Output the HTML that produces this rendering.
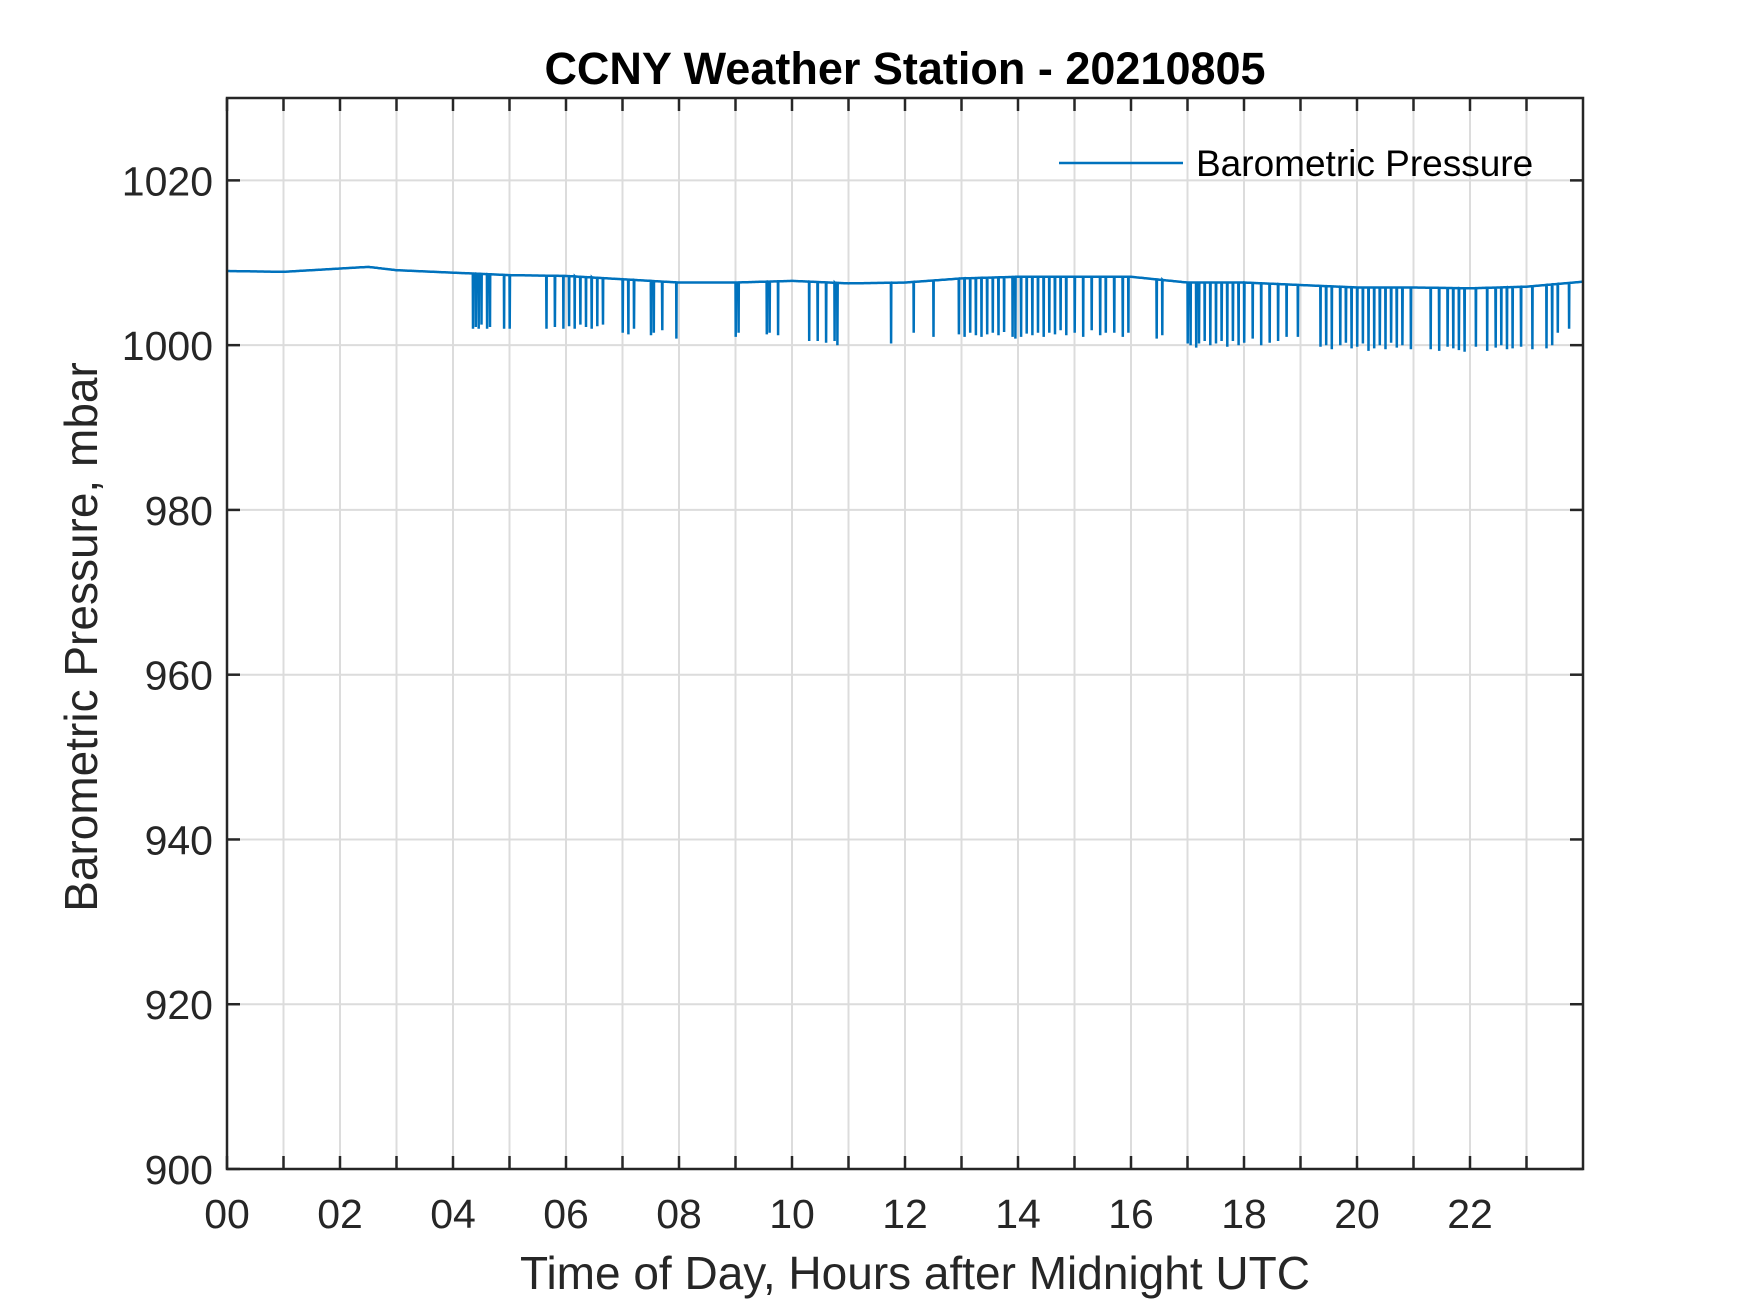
<!DOCTYPE html>
<html><head><meta charset="utf-8">
<style>
html,body{margin:0;padding:0;background:#fff;}
svg{display:block;font-family:"Liberation Sans",Arial,sans-serif;}
</style></head>
<body>
<svg id="chart" width="1750" height="1313" viewBox="0 0 1750 1313">
<rect x="0" y="0" width="1750" height="1313" fill="#fff"/>
<g id="grid"></g>
<g id="series"></g>
<g id="axes"></g>
<text x="905" y="84" text-anchor="middle" font-size="45" font-weight="bold" fill="#000">CCNY Weather Station - 20210805</text>
<text x="915" y="1289" text-anchor="middle" font-size="46" fill="#262626">Time of Day, Hours after Midnight UTC</text>
<text transform="translate(97,637) rotate(-90)" text-anchor="middle" font-size="46" fill="#262626">Barometric Pressure, mbar</text>
<g>
<line x1="1059" y1="163" x2="1183" y2="163" stroke="#0072bd" stroke-width="2.5"/>
<text x="1196" y="176" font-size="37" fill="#000">Barometric Pressure</text>
</g>
</svg>
<script>
// axis extents
const xDomain = [0, 24];
const yDomain = [900, 1030];
const xTicks = [0,1,2,3,4,5,6,7,8,9,10,11,12,13,14,15,16,17,18,19,20,21,22,23];
const xTickLabels = ["00","","02","","04","","06","","08","","10","","12","","14","","16","","18","","20","","22",""];
const yTicks = [900,920,940,960,980,1000,1020];
// baseline pressure (hourly)
const baseHours = [0,1,2,2.5,3,4,5,6,7,8,9,10,11,12,13,14,15,16,17,18,19,20,21,22,23,24];
const baseValues = [1009,1008.9,1009.3,1009.5,1009.1,1008.8,1008.5,1008.4,1008,1007.6,1007.6,1007.8,1007.5,1007.6,1008.1,1008.3,1008.3,1008.3,1007.6,1007.6,1007.3,1007,1007,1006.9,1007.1,1007.7];
// downward spikes (time in hours, min value)
const spikeTimes = [4.35,4.4,4.45,4.5,4.6,4.65,4.9,5.0,5.65,5.8,5.95,6.05,6.15,6.25,6.35,6.45,6.55,6.65,7.0,7.1,7.2,7.5,7.55,7.7,7.95,9.0,9.05,9.55,9.6,9.75,10.3,10.45,10.6,10.75,10.8,11.75,12.15,12.5,12.95,13.05,13.15,13.25,13.35,13.45,13.55,13.65,13.75,13.9,13.95,14.05,14.15,14.25,14.35,14.45,14.55,14.65,14.75,14.85,15.0,15.15,15.3,15.45,15.55,15.7,15.85,15.95,16.45,16.55,17.0,17.05,17.15,17.2,17.3,17.4,17.5,17.6,17.7,17.8,17.9,18.0,18.15,18.3,18.45,18.6,18.75,18.95,19.35,19.45,19.55,19.7,19.8,19.9,20.0,20.1,20.2,20.3,20.4,20.5,20.6,20.7,20.8,20.95,21.3,21.45,21.6,21.7,21.8,21.9,22.1,22.3,22.45,22.55,22.65,22.75,22.9,23.1,23.35,23.45,23.55,23.75];
const spikeValues = [1002,1002.2,1002,1002.5,1002,1002.2,1002,1002,1002,1002.2,1002,1002.3,1002,1002.5,1002.2,1002,1002.3,1002.5,1001.5,1001.3,1002,1001.2,1001.5,1001.8,1000.8,1001,1001.5,1001.3,1001.5,1001.2,1000.5,1000.5,1000.3,1000.5,1000,1000.2,1001.5,1001,1001.3,1001,1001.5,1001.2,1001,1001.3,1001.5,1001.2,1001.6,1001,1000.8,1001,1001.4,1001.2,1001.5,1001,1001.5,1001.3,1001.8,1001.2,1001.5,1001,1001.8,1001.2,1001.5,1001.5,1001,1001.5,1000.8,1001.2,1000.2,1000,999.7,1000.2,1000.5,1000,1000.2,1000.5,999.8,1000.5,1000,1000.3,1000.8,1000,1000.3,1000.5,1001,1001,999.8,1000,999.5,1000,1000.3,999.6,999.8,1000.2,999.3,999.6,1000,999.5,1000.3,999.7,1000,999.5,999.5,999.3,999.8,999.6,999.4,999.2,999.8,999.3,999.7,1000,999.5,999.6,999.8,999.5,999.6,1000,1001.5,1002,1001.2,1001];

const L=227,R=1583,T=98,B=1169;
const xs = v => L + (v - xDomain[0]) / (xDomain[1] - xDomain[0]) * (R - L);
const ys = v => B - (v - yDomain[0]) / (yDomain[1] - yDomain[0]) * (B - T);
const NS="http://www.w3.org/2000/svg";
function mk(tag, attrs, parent){const e=document.createElementNS(NS,tag);for(const k in attrs)e.setAttribute(k,attrs[k]);parent.appendChild(e);return e;}
function base(t){for(let i=0;i<baseHours.length-1;i++){if(t>=baseHours[i]&&t<=baseHours[i+1]){const f=(t-baseHours[i])/(baseHours[i+1]-baseHours[i]);return baseValues[i]+f*(baseValues[i+1]-baseValues[i]);}}return baseValues[baseValues.length-1];}

const grid=document.getElementById('grid'), axes=document.getElementById('axes'), series=document.getElementById('series');
xTicks.forEach((t,i)=>{
  const x=xs(t);
  const g=mk('line',{x1:x,y1:T,x2:x,y2:B,stroke:'#dcdcdc','stroke-width':2},grid);
  
  
  const a=mk('line',{x1:x,y1:B,x2:x,y2:B-13,stroke:'#262626','stroke-width':2.5},axes);
  
  
  const b=mk('line',{x1:x,y1:T,x2:x,y2:T+13,stroke:'#262626','stroke-width':2.5},axes);
  
  
  if(xTickLabels[i]){
    const tx=mk('text',{x:x,y:B+59,'text-anchor':'middle','font-size':41,fill:'#262626'},axes);
    tx.textContent=xTickLabels[i];
    
    
  }
});
yTicks.forEach(v=>{
  const y=ys(v);
  const g=mk('line',{x1:L,y1:y,x2:R,y2:y,stroke:'#dcdcdc','stroke-width':2},grid);
  
  
  const a=mk('line',{x1:L,y1:y,x2:L+13,y2:y,stroke:'#262626','stroke-width':2.5},axes);
  
  
  const b=mk('line',{x1:R,y1:y,x2:R-13,y2:y,stroke:'#262626','stroke-width':2.5},axes);
  
  
  const tx=mk('text',{x:L-14,y:y+15,'text-anchor':'end','font-size':41,fill:'#262626'},axes);
  tx.textContent=String(v);
  
  
});
const frame=mk('rect',{x:L,y:T,width:R-L,height:B-T,fill:'none',stroke:'#262626','stroke-width':2.5},axes);



// build path
let pts=[];
let si=0;
const dt=0.02;
for(let t=0;t<=24+1e-9;t+=dt){
  while(si<spikeTimes.length&&spikeTimes[si]<=t){
    const st=spikeTimes[si];
    pts.push([xs(st),ys(base(st))]);
    pts.push([xs(st+0.004),ys(spikeValues[si])]);
    pts.push([xs(st+0.008),ys(base(st))]);
    si++;
  }
  pts.push([xs(t),ys(base(t))]);
}
const d=pts.map((p,i)=>(i?'L':'M')+p[0].toFixed(1)+' '+p[1].toFixed(1)).join('');
const line=mk('path',{d:d,fill:'none',stroke:'#0072bd','stroke-width':2.5},series);


</script>
</body></html>
